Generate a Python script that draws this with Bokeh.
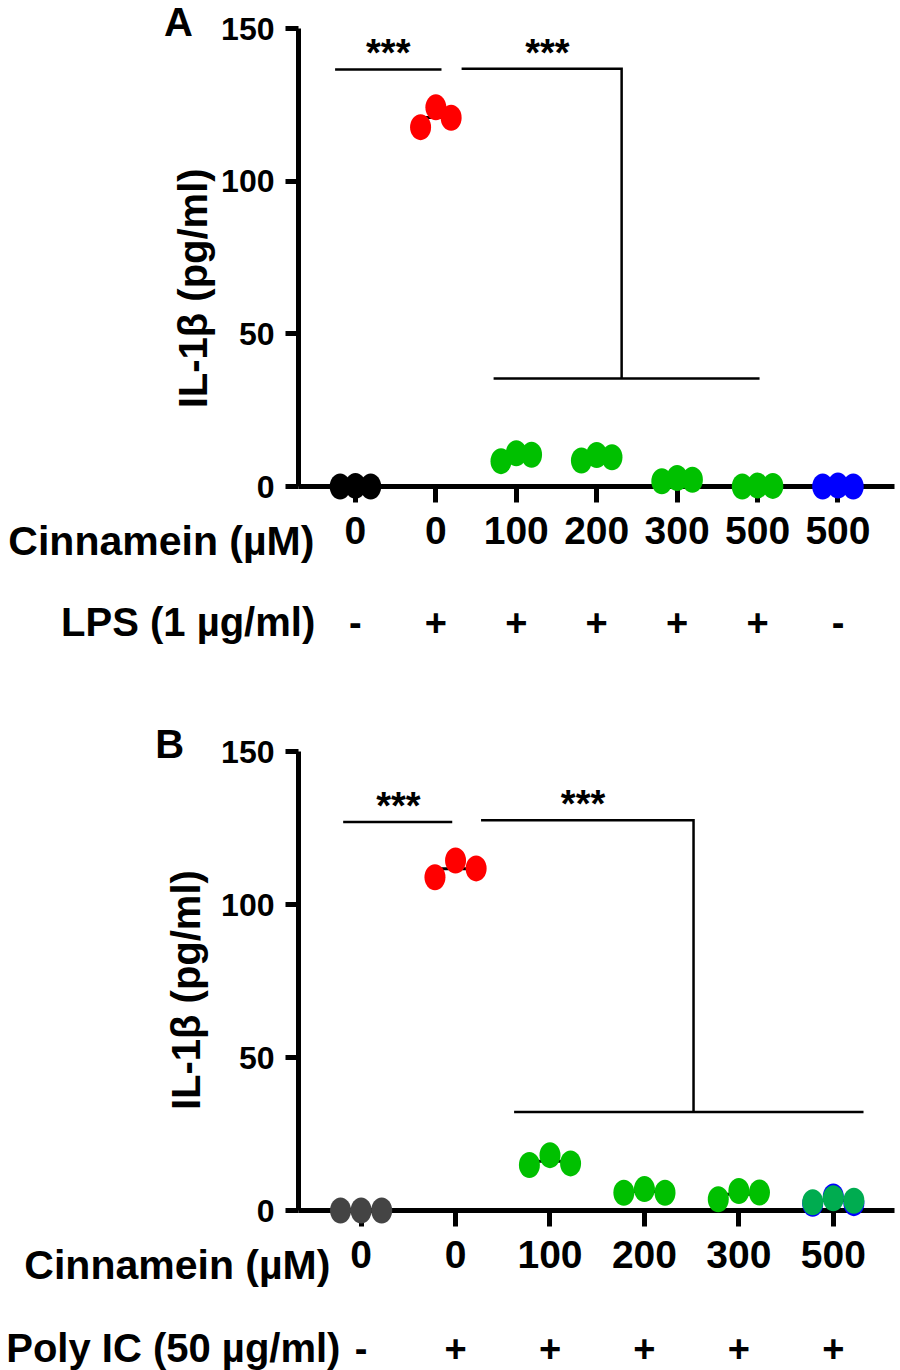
import numpy as np
from bokeh.plotting import figure
from bokeh.models import Range1d, FixedTicker
from bokeh.core.properties import value
from bokeh.layouts import column
from bokeh.embed import file_html
from bokeh.resources import INLINE

# ---------------- data: panel A (LPS) ----------------
a_dose = ["0", "0", "100", "200", "300", "500", "500"]
a_lps = ["-", "+", "+", "+", "+", "+", "-"]
a_color = ["#000000", "#FF0000", "#00C000", "#00C000", "#00C000", "#00C000", "#0000FF"]
a_rep1 = [0.0, 117.7, 8.3, 8.5, 1.7, 0.0, 0.0]
a_rep2 = [0.2, 124.2, 10.9, 10.3, 2.8, 0.3, 0.3]
a_rep3 = [0.0, 120.8, 10.4, 9.6, 2.2, 0.2, 0.0]

# ---------------- data: panel B (Poly IC) ----------------
b_dose = ["0", "0", "100", "200", "300", "500"]
b_polyic = ["-", "+", "+", "+", "+", "+"]
b_color = ["#444444", "#FF0000", "#00C000", "#00C000", "#00C000", "#00AC50"]
b_rep1 = [0.0, 109.0, 14.9, 5.8, 3.7, 2.7]
b_rep2 = [0.0, 114.5, 18.1, 7.0, 6.4, 4.0]
b_rep3 = [0.0, 111.9, 15.4, 5.8, 5.9, 3.2]
b_blue_500 = [2.2, 4.6, 2.4]   # blue 500 µM replicates, mostly hidden

y_ticks = [0, 50, 100, 150]
sig_text = "***"

SANS = "Liberation Sans"


def txt(p, xs, ys, texts, size, align="center", baseline="middle", angle=0.0):
    p.text(x=xs, y=ys, text=texts, text_font=value(SANS), text_font_style="bold",
           text_font_size=size, text_align=align, text_baseline=baseline, angle=angle,
           text_color="black", level="overlay")


def make_panel(dose, signs, colors, reps, row1, row2, letter, spread, height,
               borders, xr, yr, geom, under=None):
    p = figure(width=900, height=height, x_range=Range1d(*xr), y_range=Range1d(*yr),
               output_backend="svg", toolbar_location=None, title=None,
               min_border_left=borders[0], min_border_right=borders[1],
               min_border_top=borders[2], min_border_bottom=borders[3])
    p.grid.visible = False
    p.outline_line_color = None
    p.background_fill_color = "white"
    n = len(dose)
    ticks = list(range(1, n + 1))

    xa = p.xaxis[0]
    xa.ticker = FixedTicker(ticks=ticks)
    xa.major_label_overrides = {t: d for t, d in zip(ticks, dose)}
    xa.axis_line_width = 5
    xa.major_tick_line_width = 5
    xa.major_tick_out = 16
    xa.major_tick_in = 0
    xa.minor_tick_line_color = None
    xa.major_label_standoff = 14
    xa.major_label_text_font = SANS
    xa.major_label_text_font_style = "bold"
    xa.major_label_text_font_size = "39px"
    xa.major_label_text_color = "black"

    ya = p.yaxis[0]
    ya.ticker = FixedTicker(ticks=y_ticks)
    ya.bounds = (0, 150)
    ya.axis_line_width = 5
    ya.major_tick_line_width = 5
    ya.major_tick_out = 13
    ya.major_tick_in = 0
    ya.minor_tick_line_color = None
    ya.major_label_standoff = 11
    ya.major_label_text_font = SANS
    ya.major_label_text_font_style = "bold"
    ya.major_label_text_font_size = "32px"
    ya.major_label_text_color = "black"

    # significance brackets
    for seg in geom["lines"]:
        p.line(seg[0], seg[1], line_color="black", line_width=2.5, line_join="miter")
    txt(p, [s[0] for s in geom["stars"]], [s[1] for s in geom["stars"]],
        [sig_text] * len(geom["stars"]), "38px", baseline="alphabetic")

    # mean lines
    r1, r2, r3 = reps
    means = [(a + b + c) / 3.0 for a, b, c in zip(r1, r2, r3)]
    p.segment(x0=[t - 0.2 for t in ticks], y0=means, x1=[t + 0.2 for t in ticks], y1=means,
              line_color="black", line_width=3, level="overlay")

    if under is not None:
        ux, uv, uc = under
        p.ellipse(x=[ux - spread, ux, ux + spread], y=uv, width=21, height=26,
                  width_units="screen", height_units="screen", fill_color=uc,
                  line_color=None, level="overlay")

    xs, ys, cs = [], [], []
    for t, a, b, c, col in zip(ticks, r1, r2, r3, colors):
        xs += [t - spread, t, t + spread]
        ys += [a, b, c]
        cs += [col] * 3
    p.ellipse(x=xs, y=ys, width=21, height=26, width_units="screen", height_units="screen",
              fill_color=cs, line_color=None, level="overlay")

    # second row (+/-)
    txt(p, ticks, [geom["row2_y"]] * n, signs, "38px")
    # row titles
    txt(p, [geom["row1_x"]], [geom["row1_y"]], [row1], "41px", align="right")
    txt(p, [geom["row2_x"]], [geom["row2_y"]], [row2], "40px", align="right")
    # y title
    txt(p, [geom["ytitle"][0]], [geom["ytitle"][1]], ["IL-1β (pg/ml)"], "40px",
        angle=np.pi / 2)
    # panel letter
    txt(p, [geom["letter"][0]], [geom["letter"][1]], [letter], "40px")
    return p


geomA = dict(
    lines=[([0.747, 2.07], [136.6, 136.6]),
           ([2.32, 4.31, 4.31], [136.8, 136.8, 35.4]),
           ([2.718, 6.025], [35.4, 35.4])],
    stars=[(1.408, 141.9), (3.386, 142.1)],
    row1_x=0.49, row1_y=-17.7, row2_x=0.50, row2_y=-44.5,
    ytitle=(-1.015, 64.9), letter=(-1.201, 152.3),
)
geomB = dict(
    lines=[([0.81, 1.965], [127.1, 127.1]),
           ([2.27, 4.52, 4.52], [127.7, 127.7, 32.2]),
           ([2.62, 6.32], [32.2, 32.2])],
    stars=[(1.394, 132.3), (3.35, 132.9)],
    row1_x=0.675, row1_y=-17.8, row2_x=0.781, row2_y=-45.0,
    ytitle=(-0.85, 72.1), letter=(-1.026, 152.6),
)

pA = make_panel(a_dose, a_lps, a_color, (a_rep1, a_rep2, a_rep3),
                "Cinnamein (µM)", "LPS (1 µg/ml)", "A", 0.19, 680,
                (289, 6, 13, 194), (0.292, 7.703), (0.0, 154.93), geomA)
pB = make_panel(b_dose, b_polyic, b_color, (b_rep1, b_rep2, b_rep3),
                "Cinnamein (µM)", "Poly IC (50 µg/ml)", "B", 0.218, 690,
                (298, 5, 60, 160), (0.337, 6.648), (0.0, 153.75), geomB,
                under=(6, b_blue_500, "#0000FF"))

layout = column(pA, pB)
open("out.html", "w").write(file_html(layout, INLINE))
